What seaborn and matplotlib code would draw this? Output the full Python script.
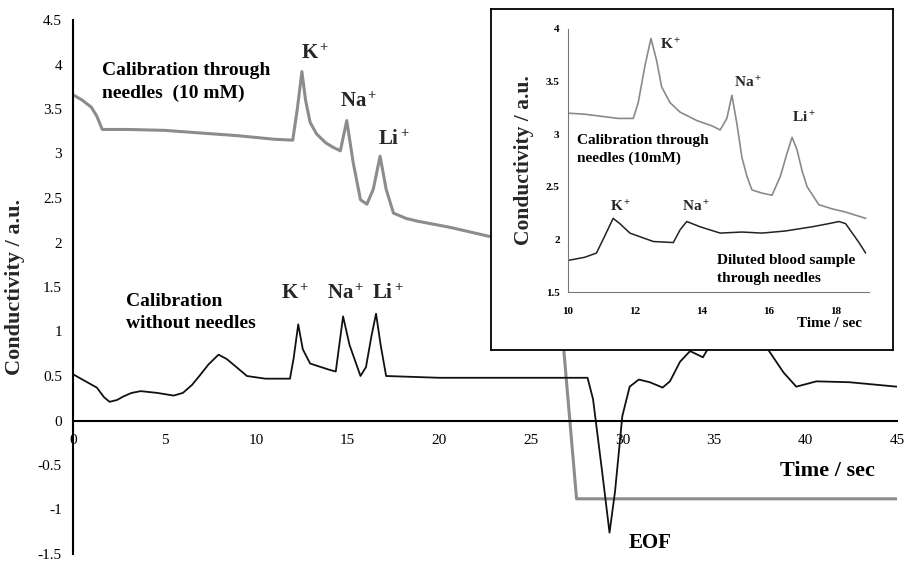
import matplotlib
matplotlib.use("Agg")
import matplotlib.pyplot as plt
import seaborn as sns
from matplotlib.ticker import FuncFormatter

# main trace: calibration through needles (10 mM)
needles_t = [0, 0.5, 1.0, 1.3, 1.6, 3, 5, 7, 9, 11, 12.0, 12.25, 12.5, 12.7, 12.95,
             13.3, 13.8, 14.2, 14.6, 14.95, 15.3, 15.7, 16.05, 16.4, 16.77, 17.1,
             17.5, 18.2, 18.8, 20.6, 22.7, 24.5, 26.3, 27.5, 45]
needles_v = [3.66, 3.6, 3.52, 3.42, 3.27, 3.27, 3.26, 3.23, 3.2, 3.16, 3.15, 3.5,
             3.92, 3.6, 3.35, 3.22, 3.12, 3.07, 3.03, 3.37, 2.9, 2.48, 2.43, 2.6,
             2.97, 2.6, 2.33, 2.27, 2.24, 2.17, 2.07, 2.04, 2.0, -0.88, -0.88]

# main trace: calibration without needles
plain_t = [0, 0.6, 1.3, 1.7, 2.0, 2.4, 2.75, 3.2, 3.7, 4.6, 5.5, 6.0, 6.5, 6.9,
           7.4, 7.95, 8.4, 8.75, 9.5, 10.5, 11.85, 12.05, 12.3, 12.55, 12.95, 14.0,
           14.35, 14.75, 15.1, 15.7, 16.0, 16.3, 16.55, 16.8, 17.1, 20, 24, 28.1,
           28.4, 28.9, 29.3, 29.6, 30.0, 30.4, 30.9, 31.5, 32.2, 32.6, 33.15, 33.7,
           34.4, 34.8, 35.5, 36.5, 37.4, 37.95, 38.8, 39.5, 40.6, 42.4, 45]
plain_v = [0.52, 0.45, 0.37, 0.26, 0.21, 0.23, 0.27, 0.31, 0.33, 0.31, 0.28, 0.31,
           0.4, 0.5, 0.63, 0.74, 0.69, 0.63, 0.5, 0.47, 0.47, 0.7, 1.08, 0.8, 0.64,
           0.57, 0.55, 1.17, 0.85, 0.5, 0.6, 0.95, 1.2, 0.85, 0.5, 0.48, 0.48, 0.48,
           0.24, -0.58, -1.26, -0.8, 0.05, 0.38, 0.46, 0.43, 0.37, 0.44, 0.66, 0.78,
           0.71, 0.85, 0.95, 0.98, 0.92, 0.8, 0.54, 0.38, 0.44, 0.43, 0.38]

# inset: calibration through needles (10mM)
cal_t = [10, 10.5, 11, 11.5, 11.95, 12.1, 12.3, 12.48, 12.65, 12.8, 13.05, 13.35,
         13.85, 14.3, 14.55, 14.75, 14.9, 15.05, 15.2, 15.35, 15.5, 15.8, 16.1,
         16.35, 16.55, 16.7, 16.85, 17.0, 17.15, 17.5, 17.9, 18.3, 18.9]
cal_v = [3.2, 3.19, 3.17, 3.15, 3.15, 3.3, 3.65, 3.91, 3.7, 3.45, 3.3, 3.21, 3.13,
         3.08, 3.04, 3.15, 3.37, 3.1, 2.78, 2.6, 2.47, 2.44, 2.42, 2.6, 2.82, 2.97,
         2.85, 2.65, 2.5, 2.33, 2.29, 2.26, 2.2]

# inset: diluted blood sample through needles
blood_t = [10, 10.5, 10.85, 11.05, 11.35, 11.55, 11.85, 12.2, 12.55, 13.15, 13.35,
           13.55, 13.95, 14.55, 15.2, 15.8, 16.5, 17.3, 17.8, 18.1, 18.3, 18.5,
           18.7, 18.9]
blood_v = [1.8, 1.83, 1.87, 2.0, 2.2, 2.15, 2.06, 2.02, 1.98, 1.97, 2.09, 2.17,
           2.12, 2.06, 2.07, 2.06, 2.08, 2.12, 2.15, 2.17, 2.15, 2.06, 1.97, 1.87]

main_xticks = [0, 5, 10, 15, 20, 25, 30, 35, 40, 45]
main_yticks = [-1.5, -1, -0.5, 0, 0.5, 1, 1.5, 2, 2.5, 3, 3.5, 4, 4.5]
inset_xticks = [10, 12, 14, 16, 18]
inset_yticks = [1.5, 2, 2.5, 3, 3.5, 4]

sns.set_style("white")
plt.rcParams["font.family"] = ["Liberation Serif", "DejaVu Serif"]
plt.rcParams["mathtext.fontset"] = "custom"
plt.rcParams["mathtext.rm"] = "Liberation Serif"
plt.rcParams["mathtext.bf"] = "Liberation Serif:bold"
plt.rcParams["mathtext.it"] = "Liberation Serif:italic"
plt.rcParams["axes.unicode_minus"] = False

W, H = 905, 562
fig = plt.figure(figsize=(W / 100, H / 100), dpi=100)
ax = fig.add_axes([73 / W, 1 - 554 / H, 824 / W, 534 / H])

sns.lineplot(x=needles_t, y=needles_v, ax=ax, color="#8c8c8c", lw=2.2,
             estimator=None, sort=False)
sns.lineplot(x=plain_t, y=plain_v, ax=ax, color="#111111", lw=1.3,
             estimator=None, sort=False)

ax.set_xlim(0, 45)
ax.set_ylim(-1.5, 4.5)
ax.set_xticks(main_xticks)
ax.set_yticks(main_yticks)
ax.yaxis.set_major_formatter(FuncFormatter(lambda v, _: f"{v:g}"))
for s in ["top", "right"]:
    ax.spines[s].set_visible(False)
ax.spines["bottom"].set_position(("data", 0))
for s in ["bottom", "left"]:
    ax.spines[s].set_linewidth(1.5)
    ax.spines[s].set_color("black")
ax.tick_params(axis="both", direction="out", length=4, width=1.2, labelsize=11,
               colors="black")
ax.tick_params(axis="x", pad=6)
ax.tick_params(axis="y", pad=4)
ax.set_xlabel("")
ax.set_ylabel("Conductivity / a.u.", fontsize=16, fontweight="bold")
ax.yaxis.set_label_coords(-0.058, 0.5)

bold = dict(fontweight="bold", color="black")
ax.text(1.6, 4.03, "Calibration through\nneedles  (10 mM)", fontsize=14,
        va="top", ha="left", linespacing=1.45, **bold)
ax.text(13.2, 4.11, r"$\mathbf{K^+}$", fontsize=15, ha="center", va="center")
ax.text(15.6, 3.58, r"$\mathbf{Na^+}$", fontsize=15, ha="center", va="center")
ax.text(17.5, 3.15, r"$\mathbf{Li^+}$", fontsize=15, ha="center", va="center")
ax.text(2.9, 1.43, "Calibration\nwithout needles", fontsize=14, ha="left",
        va="top", linespacing=1.4, **bold)
ax.text(12.1, 1.42, r"$\mathbf{K^+}$", fontsize=15, ha="center", va="center")
ax.text(14.9, 1.42, r"$\mathbf{Na^+}$", fontsize=15, ha="center", va="center")
ax.text(17.2, 1.42, r"$\mathbf{Li^+}$", fontsize=15, ha="center", va="center")
ax.text(31.5, -1.38, "EOF", fontsize=15, ha="center", va="center", **bold)
ax.text(41.2, -0.57, "Time / sec", fontsize=16, ha="center", va="center", **bold)

# inset frame
frame = fig.add_axes([491 / W, 1 - 350 / H, 402 / W, 341 / H], zorder=3)
frame.set_facecolor("white")
frame.set_xticks([])
frame.set_yticks([])
for s in frame.spines.values():
    s.set_visible(True)
    s.set_color("black")
    s.set_linewidth(1.3)

ins = fig.add_axes([568 / W, 1 - 292 / H, 301 / W, 263 / H], zorder=4)
ins.patch.set_alpha(0)
sns.lineplot(x=cal_t, y=cal_v, ax=ins, color="#8a8a8a", lw=1.2,
             estimator=None, sort=False)
sns.lineplot(x=blood_t, y=blood_v, ax=ins, color="#222222", lw=1.1,
             estimator=None, sort=False)
ins.set_xlim(10, 19)
ins.set_ylim(1.5, 4)
ins.set_xticks(inset_xticks)
ins.set_yticks(inset_yticks)
ins.yaxis.set_major_formatter(FuncFormatter(lambda v, _: f"{v:g}"))
for s in ["top", "right"]:
    ins.spines[s].set_visible(False)
for s in ["left", "bottom"]:
    ins.spines[s].set_color("#777777")
    ins.spines[s].set_linewidth(0.8)
ins.tick_params(axis="both", direction="out", length=2.5, width=0.8,
                labelsize=8, colors="#777777", labelcolor="black")
for lab in ins.get_xticklabels() + ins.get_yticklabels():
    lab.set_fontweight("bold")
ins.tick_params(axis="x", pad=8)
ins.set_xlabel("")
ins.set_ylabel("Conductivity / a.u.", fontsize=15.5, fontweight="bold")
ins.yaxis.set_label_coords(-0.113, 0.5)
ins.text(0.87, -0.118, "Time / sec", transform=ins.transAxes, fontsize=11,
         ha="center", va="center", **bold)

ins.text(13.05, 3.85, r"$\mathbf{K^+}$", fontsize=11, ha="center", va="center")
ins.text(15.37, 3.49, r"$\mathbf{Na^+}$", fontsize=11, ha="center", va="center")
ins.text(17.05, 3.15, r"$\mathbf{Li^+}$", fontsize=11, ha="center", va="center")
ins.text(10.27, 3.0, "Calibration through\nneedles (10mM)", fontsize=11,
         ha="left", va="top", linespacing=1.45, **bold)
ins.text(11.58, 2.31, r"$\mathbf{K^+}$", fontsize=11, ha="center", va="center")
ins.text(13.82, 2.31, r"$\mathbf{Na^+}$", fontsize=11, ha="center", va="center")
ins.text(14.45, 1.86, "Diluted blood sample\nthrough needles", fontsize=11,
         ha="left", va="top", linespacing=1.45, **bold)

fig.savefig("out.png", dpi=100)
